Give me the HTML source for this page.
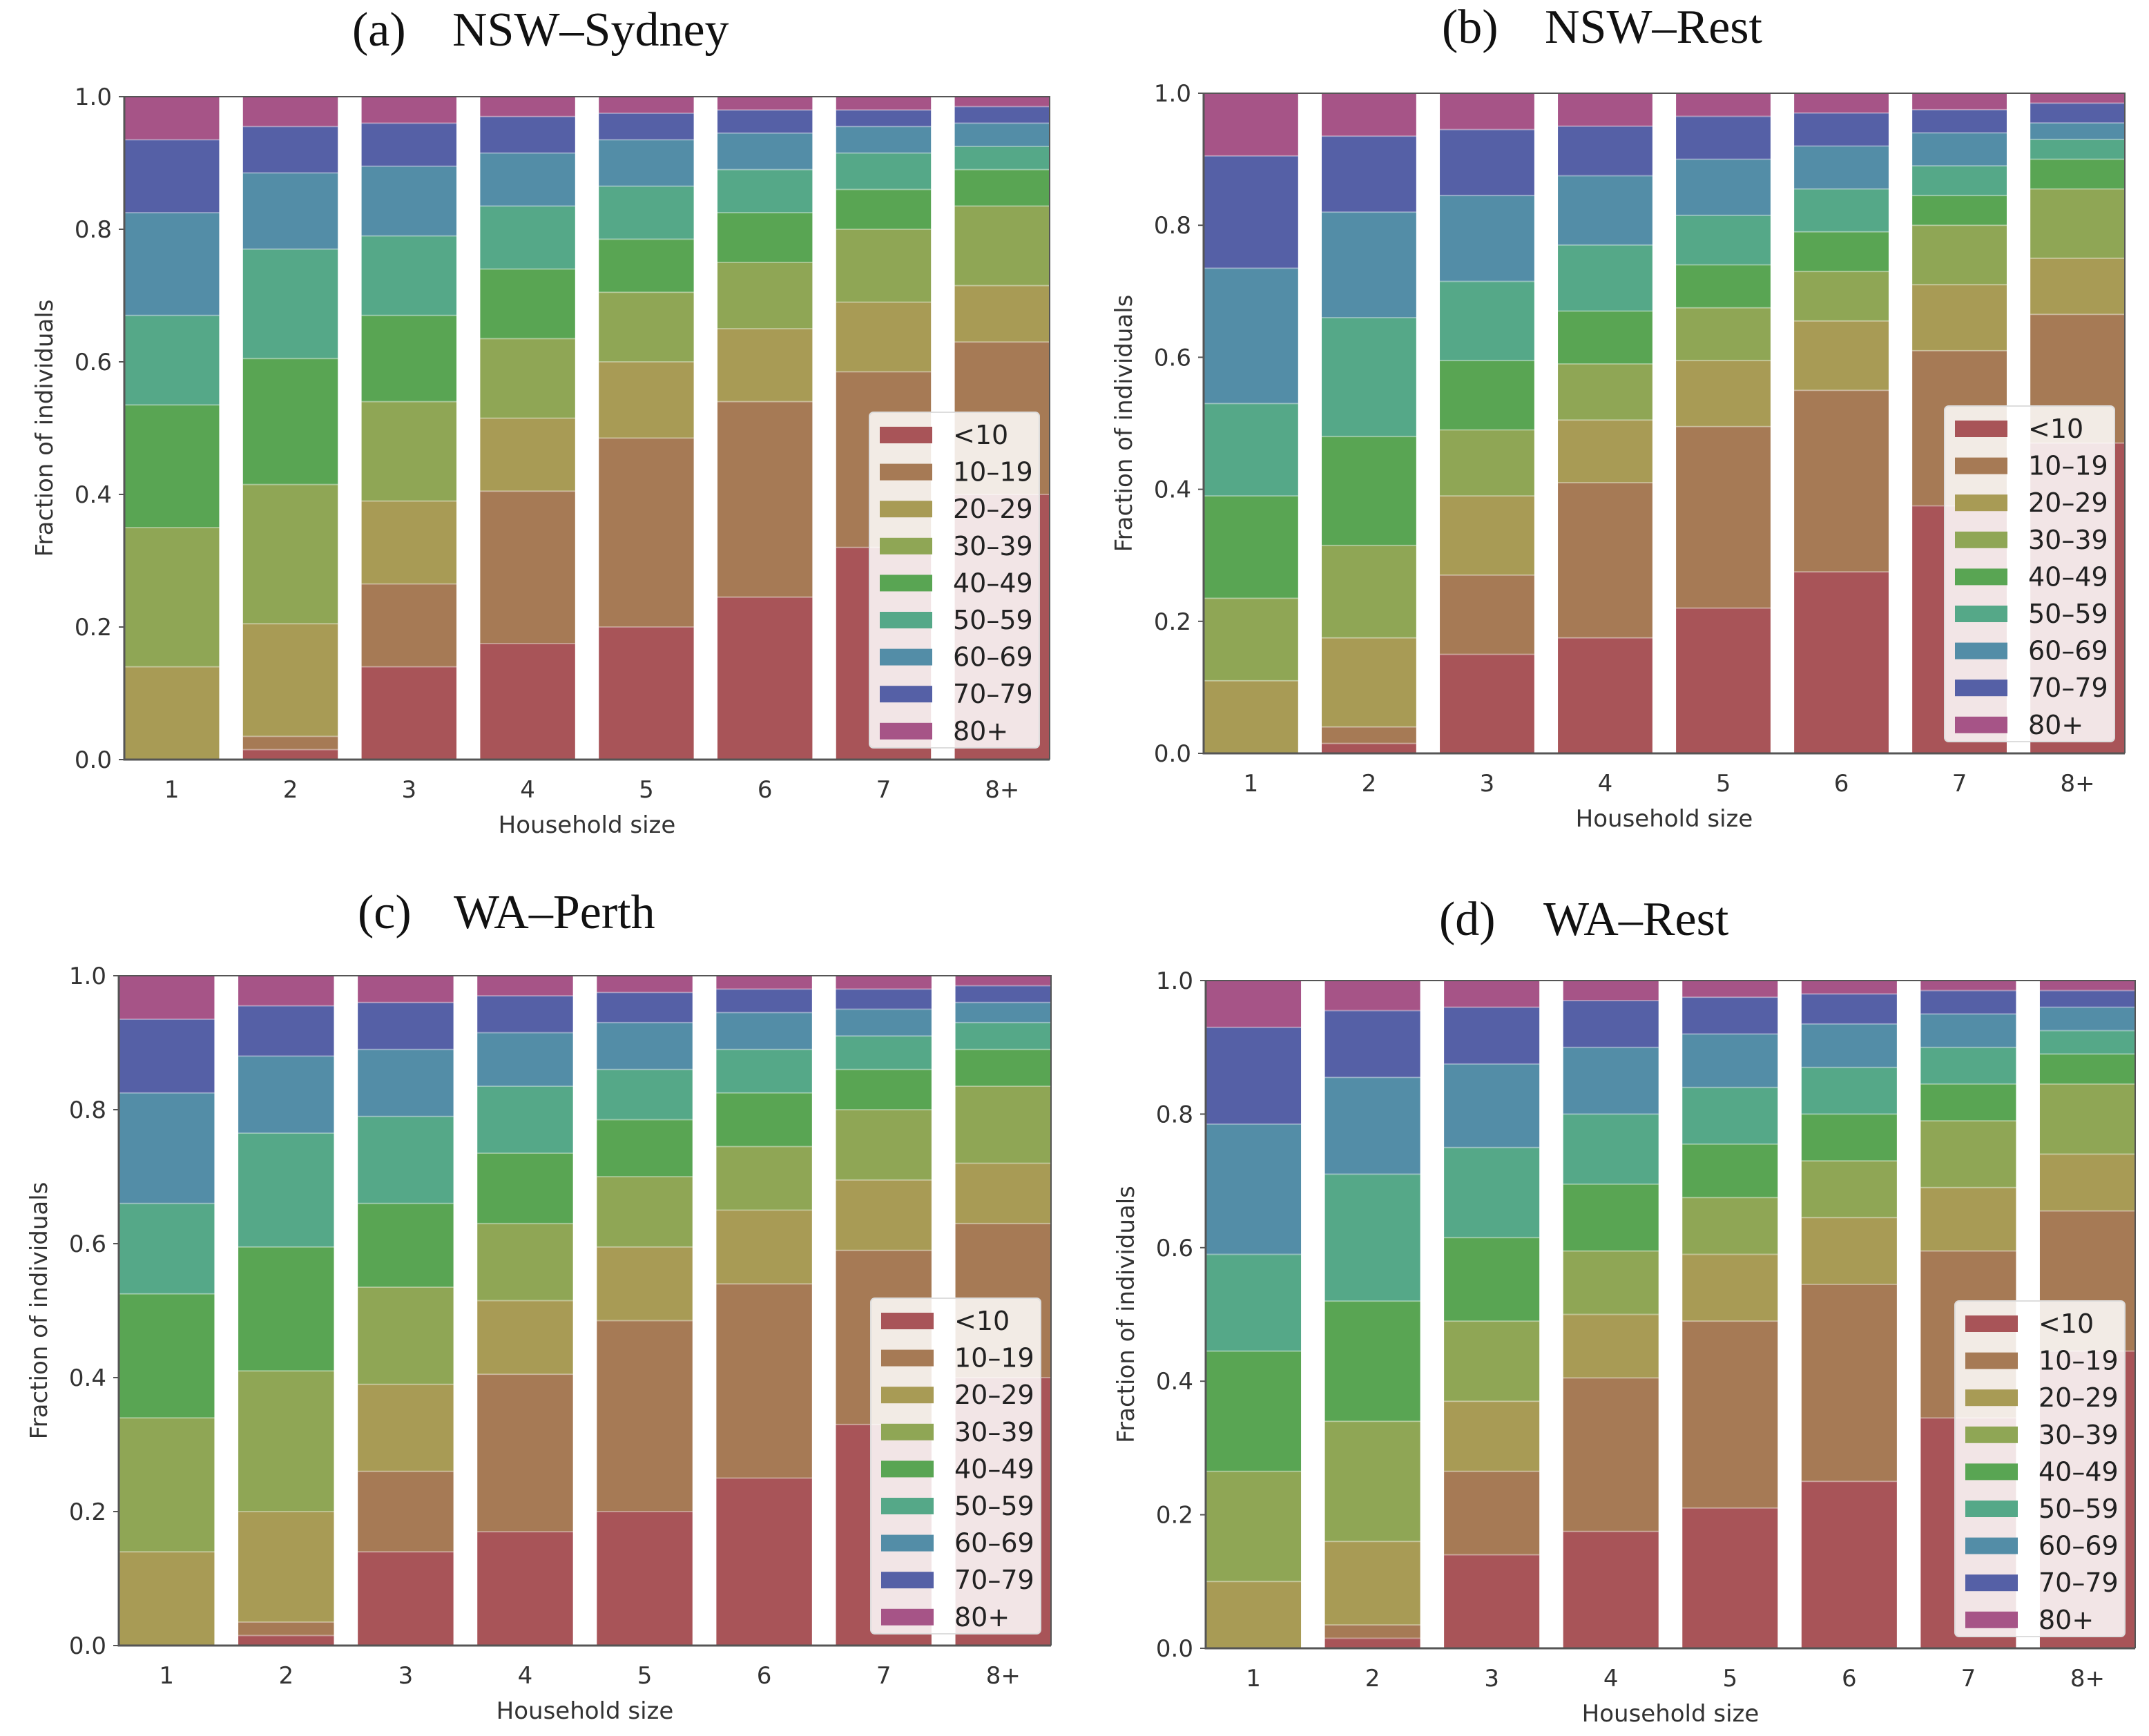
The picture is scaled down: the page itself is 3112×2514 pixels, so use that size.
<!DOCTYPE html>
<html><head><meta charset="utf-8">
<style>
html,body{margin:0;padding:0;background:#fff;}
svg{display:block;}
.tick{font-family:"DejaVu Sans","Liberation Sans",sans-serif;font-size:34px;fill:#333;}
.axl{font-family:"DejaVu Sans","Liberation Sans",sans-serif;font-size:34px;fill:#333;}
.ttl{font-family:"Liberation Serif",serif;font-size:70px;fill:#111;}
.leg{font-family:"DejaVu Sans","Liberation Sans",sans-serif;font-size:38px;fill:#222;}
</style></head>
<body>
<svg id="fig" xmlns="http://www.w3.org/2000/svg" width="3112" height="2514" viewBox="0 0 3112 2514"></svg>
<script>
// Shared data
const householdSizes = ["1","2","3","4","5","6","7","8+"];
const ageGroups = ["<10","10-19","20-29","30-39","40-49","50-59","60-69","70-79","80+"];
const groupColors = ["#a85458","#a67a55","#a89b55","#8fa655","#59a553","#55a888","#538da7","#5560a6","#a65487"];
const yTicks = [0,0.2,0.4,0.6,0.8,1.0];
const yTickLabels = ["0.0","0.2","0.4","0.6","0.8","1.0"];

// Cumulative upper bounds of each age group (rows: <10 .. 70-79; 80+ tops at 1.0), per household size
const cumSydney = [
 [0,0.015,0.14,0.175,0.2,0.245,0.32,0.4],
 [0,0.035,0.265,0.405,0.485,0.54,0.585,0.63],
 [0.14,0.205,0.39,0.515,0.6,0.65,0.69,0.715],
 [0.35,0.415,0.54,0.635,0.705,0.75,0.8,0.835],
 [0.535,0.605,0.67,0.74,0.785,0.825,0.86,0.89],
 [0.67,0.77,0.79,0.835,0.865,0.89,0.915,0.925],
 [0.825,0.885,0.895,0.915,0.935,0.945,0.955,0.96],
 [0.935,0.955,0.96,0.97,0.975,0.98,0.98,0.985],
 [1,1,1,1,1,1,1,1]
];
const cumNswRest = [
 [0,0.015,0.15,0.175,0.22,0.275,0.375,0.47],
 [0,0.04,0.27,0.41,0.495,0.55,0.61,0.665],
 [0.11,0.175,0.39,0.505,0.595,0.655,0.71,0.75],
 [0.235,0.315,0.49,0.59,0.675,0.73,0.8,0.855],
 [0.39,0.48,0.595,0.67,0.74,0.79,0.845,0.9],
 [0.53,0.66,0.715,0.77,0.815,0.855,0.89,0.93],
 [0.735,0.82,0.845,0.875,0.9,0.92,0.94,0.955],
 [0.905,0.935,0.945,0.95,0.965,0.97,0.975,0.985],
 [1,1,1,1,1,1,1,1]
];
const cumPerth = [
 [0,0.015,0.14,0.17,0.2,0.25,0.33,0.4],
 [0,0.035,0.26,0.405,0.485,0.54,0.59,0.63],
 [0.14,0.2,0.39,0.515,0.595,0.65,0.695,0.72],
 [0.34,0.41,0.535,0.63,0.7,0.745,0.8,0.835],
 [0.525,0.595,0.66,0.735,0.785,0.825,0.86,0.89],
 [0.66,0.765,0.79,0.835,0.86,0.89,0.91,0.93],
 [0.825,0.88,0.89,0.915,0.93,0.945,0.95,0.96],
 [0.935,0.955,0.96,0.97,0.975,0.98,0.98,0.985],
 [1,1,1,1,1,1,1,1]
];
const cumWaRest = [
 [0,0.015,0.14,0.175,0.21,0.25,0.345,0.445],
 [0,0.035,0.265,0.405,0.49,0.545,0.595,0.655],
 [0.1,0.16,0.37,0.5,0.59,0.645,0.69,0.74],
 [0.265,0.34,0.49,0.595,0.675,0.73,0.79,0.845],
 [0.445,0.52,0.615,0.695,0.755,0.8,0.845,0.89],
 [0.59,0.71,0.75,0.8,0.84,0.87,0.9,0.925],
 [0.785,0.855,0.875,0.9,0.92,0.935,0.95,0.96],
 [0.93,0.955,0.96,0.97,0.975,0.98,0.985,0.985],
 [1,1,1,1,1,1,1,1]
];

const panels = [
 {key:"a",letter:"(a)",name:"NSW\u2013Sydney",data:cumSydney,L:180,R:1520,T:140,B:1100,lx:510,nx:655,ty:66},
 {key:"b",letter:"(b)",name:"NSW\u2013Rest",data:cumNswRest,L:1743,R:3077,T:135,B:1091,lx:2088,nx:2237,ty:62},
 {key:"c",letter:"(c)",name:"WA\u2013Perth",data:cumPerth,L:172,R:1522,T:1413,B:2383,lx:518,nx:657,ty:1344},
 {key:"d",letter:"(d)",name:"WA\u2013Rest",data:cumWaRest,L:1746,R:3092,T:1420,B:2387,lx:2084,nx:2235,ty:1354}
];

const NS="http://www.w3.org/2000/svg";
const svg=document.getElementById('fig');
function mk(tag,attrs,parent,text){
  const e=document.createElementNS(NS,tag);
  for(const k in attrs) e.setAttribute(k,attrs[k]);
  if(text!==undefined) e.textContent=text;
  parent.appendChild(e);
  return e;
}
const BW=0.8;
panels.forEach(p=>{
  const g=mk('g',{},svg);
  
  
  const n=householdSizes.length;
  const xScale=i=>p.L+(i+BW/2)*(p.R-p.L)/(n-1+BW);
  const bwPx=BW*(p.R-p.L)/(n-1+BW);
  const yScale=v=>p.B-v*(p.B-p.T);
  // title
  const t1=mk('text',{x:p.lx,y:p.ty,class:'ttl'},g,p.letter);
  
  
  const t2=mk('text',{x:p.nx,y:p.ty,class:'ttl'},g,p.name);
  
  
  // bars
  householdSizes.forEach((hs,i)=>{
    let prev=0;
    ageGroups.forEach((ag,k)=>{
      const top=p.data[k][i];
      const y1=yScale(top), y0=yScale(prev);
      if(y0-y1>0.01){
        const r=mk('rect',{x:xScale(i)-bwPx/2,y:y1,width:bwPx,height:y0-y1,fill:groupColors[k]},g);
        
        
        if(prev>0){
          mk('line',{x1:xScale(i)-bwPx/2,x2:xScale(i)+bwPx/2,y1:y0,y2:y0,stroke:'#ffffff','stroke-opacity':0.35,'stroke-width':2},g);
        }
      }
      prev=top;
    });
    const xl=mk('text',{x:xScale(i),y:p.B+55,'text-anchor':'middle',class:'tick'},g,hs);
    
    
  });
  // axes spines
  const ax=mk('path',{d:`M${p.L},${p.T} L${p.L},${p.B} L${p.R},${p.B}`,fill:'none',stroke:'#555','stroke-width':3},g);
  
  
  mk('path',{d:`M${p.L},${p.T} L${p.R},${p.T} L${p.R},${p.B}`,fill:'none',stroke:'#555','stroke-width':2},g);
  yTicks.forEach((v,j)=>{
    mk('line',{x1:p.L-8,x2:p.L,y1:yScale(v),y2:yScale(v),stroke:'#555','stroke-width':2},g);
    const yl=mk('text',{x:p.L-18,y:yScale(v)+12,'text-anchor':'end',class:'tick'},g,yTickLabels[j]);
    
    
  });
  const xt=mk('text',{x:(p.L+p.R)/2,y:p.B+106,'text-anchor':'middle',class:'axl'},g,'Household size');
  
  
  const cy=(p.T+p.B)/2, cx=p.L-104;
  const yt=mk('text',{x:cx,y:cy,'text-anchor':'middle',class:'axl',transform:`rotate(-90 ${cx} ${cy})`},g,'Fraction of individuals');
  
  
  // legend
  const lw=246, lh=486;
  const lx=p.R-15-lw, ly=p.B-17-lh;
  const lg=mk('g',{},g);
  
  
  mk('rect',{x:lx,y:ly,width:lw,height:lh,rx:6,fill:'#ffffff','fill-opacity':0.85,stroke:'#dddddd','stroke-width':2},lg);
  ageGroups.forEach((ag,k)=>{
    const ey=ly+33+k*53.6;
    const e=mk('g',{},lg);
    
    
    mk('rect',{x:lx+15,y:ey-12,width:76,height:24,fill:groupColors[k]},e);
    mk('text',{x:lx+121,y:ey+13,class:'leg'},e,ag.replace('-','\u2013'));
  });
});
</script>
</body></html>
